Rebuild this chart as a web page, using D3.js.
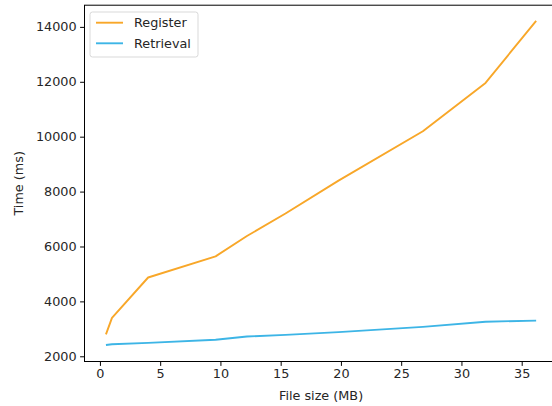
<!DOCTYPE html>
<html>
<head>
<meta charset="utf-8">
<script src="https://cdn.jsdelivr.net/npm/d3@7"></script>
<style>
  html, body { margin: 0; padding: 0; background: #fff; }
  svg { display: block; font-family: "DejaVu Sans", sans-serif; }
</style>
</head>
<body>
<svg id="chart" width="552" height="406"></svg>
<script>
const fileSizes = [0.5, 1, 4, 9.6, 12.2, 15.4, 19.8, 26.8, 32, 36.2];
const registerTimes = [2800, 3400, 4870, 5640, 6380, 7200, 8400, 10200, 11960, 14220];
const retrievalTimes = [2410, 2440, 2490, 2600, 2720, 2780, 2880, 3070, 3260, 3300];
const seriesNames = ["Register", "Retrieval"];
const seriesColors = ["#f8a729", "#3db5e6"];
const xTicks = [0, 5, 10, 15, 20, 25, 30, 35];
const yTicks = [2000, 4000, 6000, 8000, 10000, 12000, 14000];

const svg = d3.select("#chart");
const pLeft = 84.5, pRight = 557.6, pTop = 5.2, pBottom = 361.5;

const x = d3.scaleLinear().domain([-1.28, 37.98]).range([pLeft, pRight]);
const y = d3.scaleLinear().domain([1810, 14790]).range([pBottom, pTop]);

const fontSize = 12.8;

// axes
const xAxis = svg.append("g").attr("transform", `translate(0,${pBottom})`)
  .call(d3.axisBottom(x).tickValues(xTicks).tickSize(4.4).tickPadding(3.5).tickSizeOuter(0));
const yAxis = svg.append("g").attr("transform", `translate(${pLeft},0)`)
  .call(d3.axisLeft(y).tickValues(yTicks).tickSize(4.4).tickPadding(3.5).tickSizeOuter(0).tickFormat(d3.format("d")));
[xAxis, yAxis].forEach(g => {
  g.selectAll("text").attr("font-size", fontSize).attr("fill", "#262626").attr("font-family", "DejaVu Sans");
  g.selectAll("line").attr("stroke", "#000").attr("stroke-width", 1);
  g.select(".domain").remove();
});

// frame
svg.append("rect").attr("x", pLeft).attr("y", pTop).attr("width", pRight - pLeft).attr("height", pBottom - pTop)
  .attr("fill", "none").attr("stroke", "#000").attr("stroke-width", 1);

const series = [registerTimes, retrievalTimes];
const line = d3.line().x((d, i) => x(fileSizes[i])).y(d => y(d));
series.forEach((s, k) => {
  svg.append("path").datum(s).attr("d", line).attr("fill", "none")
    .attr("stroke", seriesColors[k]).attr("stroke-width", 1.9).attr("stroke-linejoin", "round");
});

// labels
svg.append("text").attr("x", (pLeft + pRight) / 2).attr("y", 400).attr("text-anchor", "middle")
  .attr("font-size", fontSize).attr("fill", "#262626").text("File size (MB)");
svg.append("text").attr("transform", `translate(23,${(pTop + pBottom) / 2}) rotate(-90)`).attr("text-anchor", "middle")
  .attr("font-size", fontSize).attr("fill", "#262626").text("Time (ms)");

// legend
const lg = svg.append("g");
lg.append("rect").attr("x", 90).attr("y", 12).attr("width", 108).attr("height", 45).attr("rx", 2.5)
  .attr("fill", "#fff").attr("fill-opacity", 0.8).attr("stroke", "#d9d9d9").attr("stroke-width", 1);
seriesNames.forEach((n, k) => {
  const yy = 22.7 + k * 20.6;
  lg.append("line").attr("x1", 96).attr("x2", 123).attr("y1", yy).attr("y2", yy)
    .attr("stroke", seriesColors[k]).attr("stroke-width", 1.9);
  lg.append("text").attr("x", 134).attr("y", yy + 4.5).attr("font-size", fontSize).attr("fill", "#262626").text(n);
});
</script>
</body>
</html>
